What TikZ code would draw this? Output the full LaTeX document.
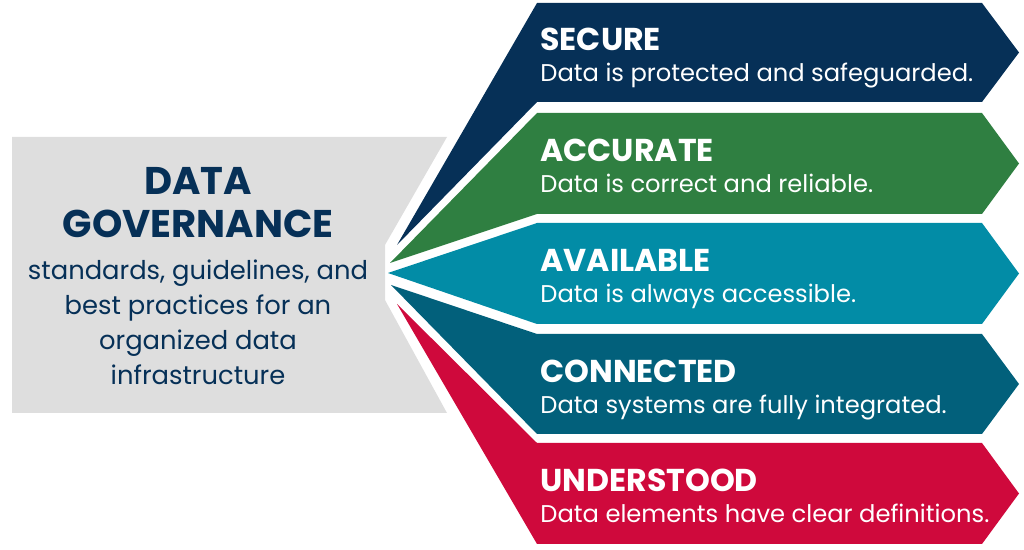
\documentclass[tikz,border=0pt]{standalone}
\usepackage{fontspec}
\setmainfont{Poppins}
\definecolor{secnavy}{HTML}{063057}
\definecolor{accgreen}{HTML}{2F7F41}
\definecolor{avacyan}{HTML}{028CA6}
\definecolor{conteal}{HTML}{02607B}
\definecolor{undred}{HTML}{CF093C}
\definecolor{panelgray}{HTML}{DEDEDE}

\begin{document}
\begin{tikzpicture}[x=0.5pt,y=-0.5pt,
  heading/.style={anchor=base west,inner sep=0pt,text=white,font=\fontsize{15.8}{18}\selectfont\bfseries},
  blurb/.style={anchor=base west,inner sep=0pt,text=white,font=\fontsize{12.1}{14}\selectfont},
  bigtitle/.style={anchor=base,inner sep=0pt,text=secnavy,font=\fontsize{19.3}{22}\selectfont\bfseries}]

\useasboundingbox (0,0) rectangle (1024,550);

% grey panel on the left
\fill[panelgray] (12,137) -- (447,137) -- (385,245) -- (385,300) -- (447,413) -- (12,413) -- cycle;
\node[bigtitle] (data) at (198,195) {DATA};
\node[bigtitle] (gov) at (198,238) {GOVERNANCE};
\node[anchor=north,inner sep=0pt,align=center,text=secnavy,font=\fontsize{12.9}{17.5}\selectfont] (scope) at (198,259)
  {standards, guidelines, and\\best practices for an\\organized data\\infrastructure};

% the five arrows
\fill[secnavy] (537,3) -- (982,3) -- (1019,52.5) -- (982,102) -- (537,102) -- (397,245) -- cycle;
\fill[accgreen] (537,113) -- (982,113) -- (1019,163.5) -- (982,214) -- (537,214) -- (390,263) -- cycle;
\fill[avacyan] (537,223) -- (982,223) -- (1019,273.5) -- (982,324) -- (537,324) -- (388,273) -- cycle;
\fill[conteal] (537,334) -- (982,334) -- (1019,384) -- (982,434) -- (537,434) -- (391,285) -- cycle;
\fill[undred] (537,443) -- (982,443) -- (1019,493.5) -- (982,544) -- (537,544) -- (397,304) -- cycle;

\node[heading] (secure) at (540,51) {SECURE};
\node[blurb] (securetxt) at (540,82) {Data is protected and safeguarded.};
\node[heading] (accurate) at (540,162) {ACCURATE};
\node[blurb] (accuratetxt) at (540,193) {Data is correct and reliable.};
\node[heading] (available) at (540,272) {AVAILABLE};
\node[blurb] (availabletxt) at (540,303) {Data is always accessible.};
\node[heading] (connected) at (540,383) {CONNECTED};
\node[blurb] (connectedtxt) at (540,414) {Data systems are fully integrated.};
\node[heading] (understood) at (540,492) {UNDERSTOOD};
\node[blurb] (understoodtxt) at (540,523) {Data elements have clear definitions.};
\end{tikzpicture}
\end{document}
